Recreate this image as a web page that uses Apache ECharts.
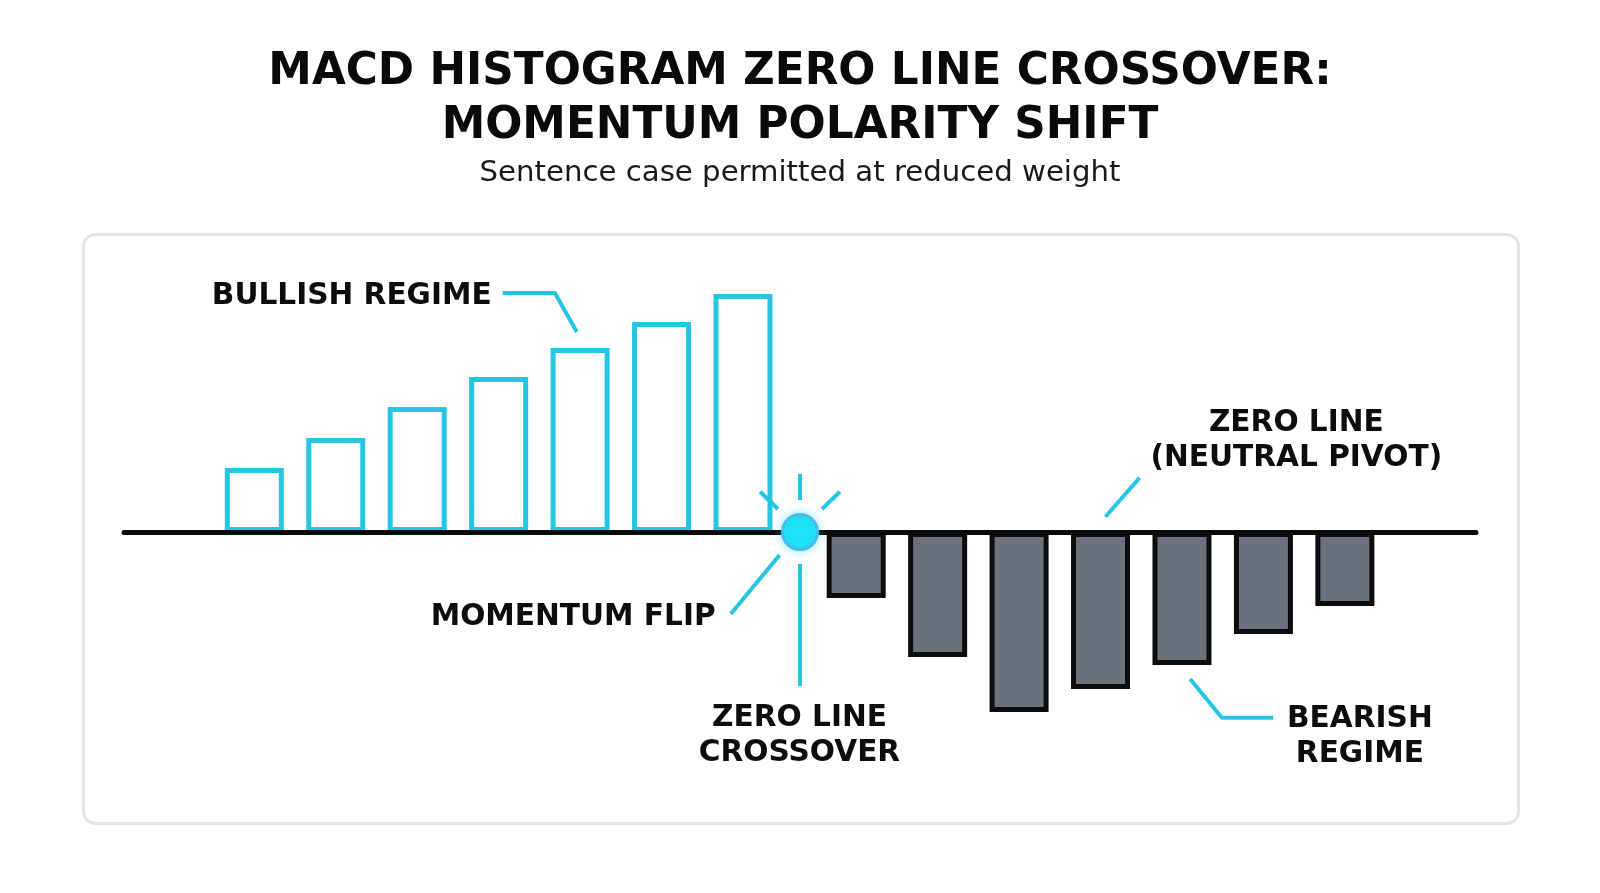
<!DOCTYPE html>
<html>
<head>
<meta charset="utf-8">
<script src="https://cdn.jsdelivr.net/npm/echarts@6/dist/echarts.min.js"></script>
<style>
html,body{margin:0;padding:0;background:#ffffff;}
#chart{width:1600px;height:893px;}
</style>
</head>
<body>
<div id="chart"></div>
<script>
// ---- data ----
const titleLines = ['MACD HISTOGRAM ZERO LINE CROSSOVER:', 'MOMENTUM POLARITY SHIFT'];
const subtitleText = 'Sentence case permitted at reduced weight';

const bullishPeriods = [1, 2, 3, 4, 5, 6, 7];
const bullishValues = [0.64, 0.94, 1.25, 1.55, 1.84, 2.10, 2.38];

const bearishPeriods = [8.39, 9.39, 10.39, 11.39, 12.39, 13.39, 14.39];
const bearishValues = [-0.66, -1.25, -1.80, -1.57, -1.33, -1.02, -0.74];

const crossoverPoint = [7.70, 0];

// annotation leader lines (data coordinates)
const leaderBullish = [[4.05, 2.39], [4.69, 2.39], [4.96, 2.00]];
const leaderZeroLine = [[11.45, 0.153], [11.87, 0.543]];
const leaderBearish = [[12.49, -1.47], [12.88, -1.857], [13.51, -1.857]];
const leaderFlip = [[6.85, -0.82], [7.45, -0.23]];
const leaderCrossover = [[7.70, -0.32], [7.70, -1.54]];
const rayTop = [[7.70, 0.58], [7.70, 0.32]];
const rayLeft = [[7.21, 0.403], [7.43, 0.23]];
const rayRight = [[7.97, 0.23], [8.19, 0.403]];

// annotation labels (data coordinates)
const annotationNames = ['BULLISH REGIME', 'MOMENTUM FLIP', 'ZERO LINE\n(NEUTRAL PIVOT)', 'ZERO LINE\nCROSSOVER', 'BEARISH\nREGIME'];
const annotationPos = [[3.92, 2.35], [6.67, -0.86], [13.80, 0.905], [7.70, -2.045], [14.58, -2.055]];
const annotationAlign = ['right', 'right', 'center', 'center', 'center'];

// ---- style ----
const CYAN = '#27C5E4';
const HEAD_FONT = 'DejaVu Sans';
const measureCtx = document.createElement('canvas').getContext('2d');
function fit(text, weight, family, target) {
  measureCtx.font = weight + ' 100px "' + family + '"';
  return 100 * target / measureCtx.measureText(text).width;
}
const titleSize = Math.min(fit(titleLines[0], 'bold', HEAD_FONT, 1065), fit(titleLines[1], 'bold', HEAD_FONT, 717));
const subSize = fit(subtitleText, 'normal', HEAD_FONT, 641);
const annSize = fit('MOMENTUM FLIP', 'bold', HEAD_FONT, 285);

function leader(data) {
  return {
    type: 'line', data: data, symbol: 'none', silent: true, z: 5,
    lineStyle: { color: CYAN, width: 4, cap: 'butt' }
  };
}

const chart = echarts.init(document.getElementById('chart'));
chart.setOption({
  animation: false,
  backgroundColor: '#ffffff',
  title: [
    {
      text: titleLines.join('\n'), left: 'center', top: 41,
      textStyle: { fontFamily: HEAD_FONT, fontWeight: 'bold', fontSize: titleSize, lineHeight: 54, color: '#0a0a0a' }
    },
    {
      text: subtitleText, left: 'center', top: 150,
      textStyle: { fontFamily: HEAD_FONT, fontWeight: 'normal', fontSize: subSize, lineHeight: 36, color: '#1a1a1a' }
    }
  ],
  graphic: [
    {
      type: 'rect', left: 82, top: 233, z: -10, silent: true,
      shape: { width: 1435, height: 589, r: 12 },
      style: { fill: '#ffffff', stroke: '#e3e5e8', lineWidth: 3 }
    }
  ],
  grid: { left: 124, right: 124, top: 232, bottom: 61 },
  xAxis: {
    type: 'value', min: -0.6, max: 16, z: 10,
    axisLine: { show: true, onZero: true, lineStyle: { color: '#0a0a0a', width: 5 } },
    axisTick: { show: false }, axisLabel: { show: false }, splitLine: { show: false }
  },
  yAxis: {
    type: 'value', min: -3, max: 3, show: false,
    splitLine: { show: false }
  },
  series: [
    {
      name: 'Bullish', type: 'bar', barWidth: 59, barGap: '-100%',
      data: bullishPeriods.map((p, i) => [p, bullishValues[i]]),
      itemStyle: { color: '#ffffff', borderColor: CYAN, borderWidth: 5 }
    },
    {
      name: 'Bearish', type: 'bar', barWidth: 59, barGap: '-100%',
      data: bearishPeriods.map((p, i) => [p, bearishValues[i]]),
      itemStyle: { color: '#6b717d', borderColor: '#0d0d0d', borderWidth: 5 }
    },
    leader(leaderBullish),
    leader(leaderZeroLine),
    leader(leaderBearish),
    leader(leaderFlip),
    leader(leaderCrossover),
    leader(rayTop),
    leader(rayLeft),
    leader(rayRight),
    {
      name: 'Crossover', type: 'scatter', z: 20, silent: true,
      data: [crossoverPoint], symbol: 'circle', symbolSize: 35,
      itemStyle: { color: '#1FE3F4', opacity: 1, borderColor: '#45BFEA', borderWidth: 3, shadowColor: 'rgba(40,200,240,0.45)', shadowBlur: 10 }
    },
    {
      name: 'Annotations', type: 'scatter', z: 15, silent: true,
      symbolSize: 1, itemStyle: { color: 'rgba(0,0,0,0)', opacity: 1 },
      data: annotationNames.map((n, i) => ({
        name: n, value: annotationPos[i],
        label: { align: annotationAlign[i] }
      })),
      label: {
        show: true, position: [0, 0], verticalAlign: 'middle',
        formatter: '{b}', fontFamily: HEAD_FONT, fontWeight: 'bold', opacity: 1,
        fontSize: annSize, lineHeight: 35, color: '#0d0d0d'
      }
    }
  ]
});
</script>
</body>
</html>
